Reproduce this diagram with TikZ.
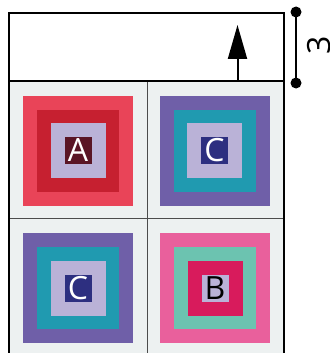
\documentclass[tikz,border=0pt]{standalone}
\usepackage{fontspec}
\newfontfamily\tilefont{Open Sans}
\usetikzlibrary{arrows.meta}

\definecolor{cellgray}{HTML}{EDF1F1}
\definecolor{redlight}{HTML}{E94458}
\definecolor{reddark}{HTML}{C62030}
\definecolor{maroon}{HTML}{5A1525}
\definecolor{lavender}{HTML}{BAB2D7}
\definecolor{purple}{HTML}{6F5FA8}
\definecolor{teal}{HTML}{209AB0}
\definecolor{navy}{HTML}{2D2F80}
\definecolor{pink}{HTML}{E9609C}
\definecolor{mint}{HTML}{6CC3B0}
\definecolor{crimson}{HTML}{D81B5C}

\tikzset{
  sq/.style={inner sep=0pt, outer sep=0pt, minimum size=#1},
  letter/.style={inner sep=0pt, text height=22.8pt, text depth=0pt,
    font=\tilefont\fontsize{32}{32}\selectfont},
  dot/.style={circle, fill=black, inner sep=0pt, minimum size=11pt}
}

\begin{document}
\begin{tikzpicture}[x=1pt,y=-1pt]
\useasboundingbox (0,0) rectangle (329,353);
\def\tile#1#2#3#4#5#6#7#8{%
  \node[sq=110, fill=#3] (#1o) at (#2) {};
  \node[sq=82, fill=#4] (#1m) at (#2) {};
  \node[sq=55, fill=#5] (#1i) at (#2) {};
  \node[sq=27, fill=#6] (#1b) at (#2) {};
  \node[letter, text=#8] (#1l) at (#2) {#7};}

        \fill[cellgray] (9,81) rectangle (284,360);
        \draw[line width=1pt, black!70] (147,81) -- (147,360) (9,218) -- (284,218);
\draw[line width=1.3pt] (9,360) -- (9,13) -- (284,13) -- (284,360) (9,81) -- (284,81);

\tile{a}{78,150.5}{redlight}{reddark}{lavender}{maroon}{A}{white}
\tile{c}{214.5,150.5}{purple}{teal}{lavender}{navy}{C}{white}
\tile{d}{78,288}{purple}{teal}{lavender}{navy}{C}{white}
\tile{b}{215,288}{pink}{mint}{crimson}{lavender}{B}{black}

\coordinate (foot) at (237.5,81);
\coordinate (tip) at (237.5,25);
\draw[line width=2pt, -{Triangle[length=34pt,width=19pt]}] (foot) -- (tip);

\node[dot] (top) at (296,12) {};
\node[dot] (bot) at (296,83) {};
\draw[line width=2.2pt] (top.center) -- (bot.center);
\node[letter, rotate=90] (len) at (319.5,45) {3};
\end{tikzpicture}
\end{document}
